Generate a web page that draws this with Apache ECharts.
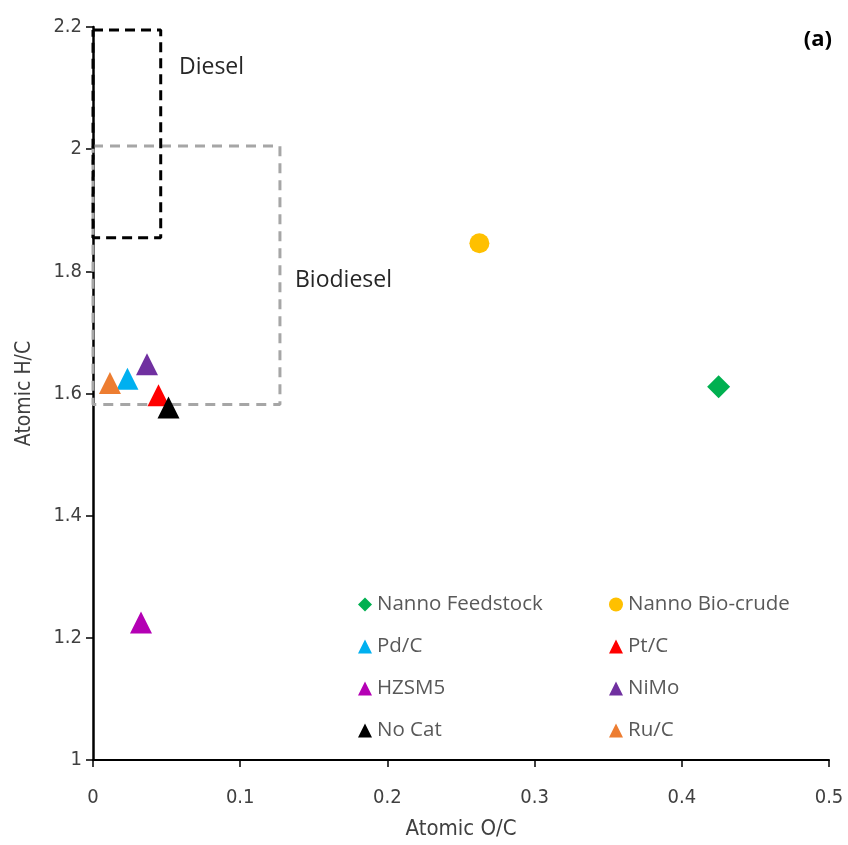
<!DOCTYPE html>
<html>
<head>
<meta charset="utf-8">
<script src="https://cdn.jsdelivr.net/npm/echarts@6/dist/echarts.min.js"></script>
<style>
  html, body { margin: 0; padding: 0; background: #fff; overflow: hidden; }
  #chart { width: 848px; height: 845px; }
</style>
</head>
<body>
<div id="chart"></div>
<script>
// Atomic O/C vs H/C (van Krevelen style) for feedstock, bio-crude and upgraded oils
const seriesNames = ['Nanno Feedstock', 'Nanno Bio-crude', 'Pd/C', 'Pt/C', 'HZSM5', 'NiMo', 'No Cat', 'Ru/C'];
const atomicOC = [0.425, 0.2625, 0.0234, 0.0445, 0.0326, 0.0367, 0.0513, 0.0115];
const atomicHC = [1.611, 1.846, 1.624, 1.597, 1.225, 1.648, 1.577, 1.617];
const seriesColors = ['#00b050', '#ffc000', '#00b0f0', '#ff0000', '#b400b4', '#7030a0', '#000000', '#ed7d31'];
const seriesSymbols = ['diamond', 'circle', 'triangle', 'triangle', 'triangle', 'triangle', 'triangle', 'triangle'];
const symbolSizes = [23, 20, 22, 22, 22, 22, 22, 22];

// Fuel specification ranges [min, max]
const dieselOC = [0, 0.046];
const dieselHC = [1.855, 2.195];
const biodieselOC = [0, 0.127];
const biodieselHC = [1.582, 2.005];

const xTicks = { min: 0, max: 0.5, interval: 0.1 };
const yTicks = { min: 1, max: 2.2, interval: 0.2 };

function boxPath(xr, yr) {
  return [[xr[0], yr[1]], [xr[1], yr[1]], [xr[1], yr[0]], [xr[0], yr[0]], [xr[0], yr[1]]];
}

const axisFont = "'Liberation Sans Narrow', 'DejaVu Sans Condensed', 'Roboto Condensed', sans-serif";
const textFont = "'Open Sans', 'Noto Sans', sans-serif";

const chart = echarts.init(document.getElementById('chart'), null, { renderer: 'canvas', width: 848, height: 845 });

const series = [
  {
    type: 'line', name: 'Biodiesel range', data: boxPath(biodieselOC, biodieselHC),
    symbol: 'none', silent: true, z: 1,
    lineStyle: { color: '#a6a6a6', width: 3, type: [10, 7] }
  },
  {
    type: 'line', name: 'Diesel range', data: boxPath(dieselOC, dieselHC),
    symbol: 'none', silent: true, z: 1,
    lineStyle: { color: '#000000', width: 3, type: [10, 6] }
  }
];
seriesNames.forEach((name, i) => {
  series.push({
    type: 'scatter', name: name,
    symbol: seriesSymbols[i], symbolSize: symbolSizes[i],
    itemStyle: { color: seriesColors[i], opacity: 1 },
    data: [[atomicOC[i], atomicHC[i]]],
    z: 2
  });
});

const legendCommon = {
  orient: 'vertical', itemWidth: 14, itemHeight: 14, itemGap: 21, padding: 0,
  selectedMode: false,
  textStyle: { fontFamily: textFont, fontSize: 20.5, color: '#595959', lineHeight: 21, padding: [0, 0, 0, 0] },
  itemStyle: { borderWidth: 0 }
};

chart.setOption({
  backgroundColor: '#ffffff',
  animation: false,
  grid: { left: 93, right: 19, top: 27, bottom: 78, containLabel: false },
  xAxis: {
    type: 'value', min: xTicks.min, max: xTicks.max, interval: xTicks.interval,
    name: 'Atomic O/C', nameLocation: 'middle', nameGap: 58,
    nameTextStyle: { fontFamily: axisFont, fontSize: 22, color: '#404040' },
    axisLine: { lineStyle: { color: '#000', width: 2 } },
    axisTick: { show: true, length: 7, lineStyle: { color: '#000', width: 1.5 } },
    axisLabel: { fontFamily: axisFont, fontSize: 20, color: '#404040', margin: 28 },
    splitLine: { show: false }
  },
  yAxis: {
    type: 'value', min: yTicks.min, max: yTicks.max, interval: yTicks.interval,
    name: 'Atomic H/C', nameLocation: 'middle', nameGap: 58, nameRotate: 90,
    nameTextStyle: { fontFamily: axisFont, fontSize: 21, color: '#404040' },
    axisLine: { show: true, lineStyle: { color: '#000', width: 2.5 } },
    axisTick: { show: true, length: 7, lineStyle: { color: '#000', width: 1.5 } },
    axisLabel: { fontFamily: axisFont, fontSize: 20, color: '#404040', margin: 11 },
    splitLine: { show: false }
  },
  legend: [
    Object.assign({}, legendCommon, { left: 358, top: 594, data: ['Nanno Feedstock', 'Pd/C', 'HZSM5', 'No Cat'] }),
    Object.assign({}, legendCommon, { left: 609, top: 594, data: ['Nanno Bio-crude', 'Pt/C', 'NiMo', 'Ru/C'] })
  ],
  graphic: [
    { type: 'text', left: 179, top: 56, style: { text: 'Diesel', font: '23px ' + textFont, fill: '#262626' } },
    { type: 'text', left: 295, top: 269, style: { text: 'Biodiesel', font: '23px ' + textFont, fill: '#262626' } },
    { type: 'text', right: 16, top: 29, style: { text: '(a)', font: 'bold 22px ' + textFont, fill: '#000' } }
  ],
  series: series
});
</script>
</body>
</html>
